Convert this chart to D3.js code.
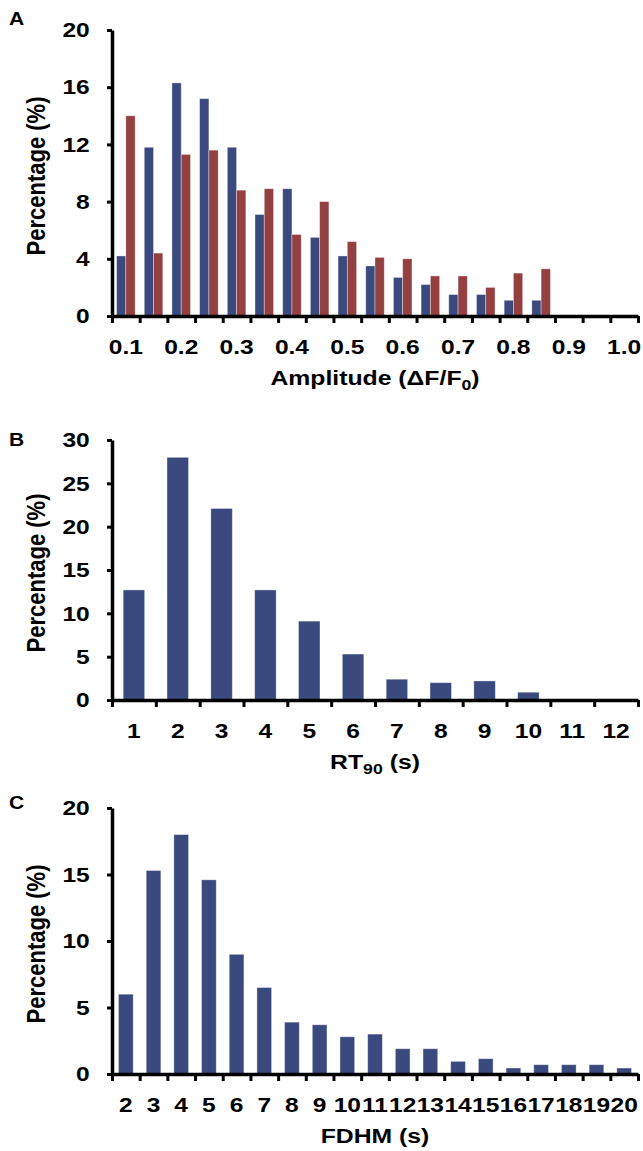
<!DOCTYPE html>
<html>
<head>
<meta charset="utf-8">
<script src="https://cdn.jsdelivr.net/npm/d3@7"></script>
<style>
  body { margin: 0; background: #fff; }
  svg text { font-family: "Liberation Sans", Arial, sans-serif; font-weight: bold; fill: #000; }
</style>
</head>
<body>
<div id="chart"></div>
<script>
// panel A: amplitude histogram, two series
const ampCats = ["0.1","0.15","0.2","0.25","0.3","0.35","0.4","0.45","0.5","0.55",
                 "0.6","0.65","0.7","0.75","0.8","0.85","0.9","0.95","1.0"];
const ampLabels = ["0.1","0.2","0.3","0.4","0.5","0.6","0.7","0.8","0.9","1.0"];
const ampBlue = [4.2, 11.8, 16.3, 15.2, 11.8, 7.1, 8.9, 5.5, 4.2, 3.5, 2.7, 2.2, 1.5, 1.5, 1.1, 1.1, 0, 0, 0];
const ampRed  = [14.0, 4.4, 11.3, 11.6, 8.8, 8.9, 5.7, 8.0, 5.2, 4.1, 4.0, 2.8, 2.8, 2.0, 3.0, 3.3, 0, 0, 0];
const ampTicks = [0, 4, 8, 12, 16, 20];

// panel B: RT90
const rtCats = ["1","2","3","4","5","6","7","8","9","10","11","12"];
const rtVals = [12.7, 28.0, 22.1, 12.7, 9.1, 5.3, 2.4, 2.0, 2.2, 0.9, 0, 0];
const rtTicks = [0, 5, 10, 15, 20, 25, 30];

// panel C: FDHM
const fdCats = ["2","3","4","5","6","7","8","9","10","11","12","13","14","15","16","17","18","19","20"];
const fdVals = [6.0, 15.3, 18.0, 14.6, 9.0, 6.5, 3.9, 3.7, 2.8, 3.0, 1.9, 1.9, 0.95, 1.15, 0.45, 0.7, 0.7, 0.7, 0.45];
const fdTicks = [0, 5, 10, 15, 20];

const W = 643, H = 1151,
      left = 112, right = 638,
      sx = 1.17,           // the figure is stretched sideways
      blue = "#3b4a7e", red = "#943f40";

const svg = d3.select("#chart").append("svg")
  .attr("width", W).attr("height", H);

function subTitle(t, parts) {
  parts.forEach(p => {
    const ts = t.append("tspan").text(p.s);
    if (p.sub) ts.attr("font-size", "15px").attr("dy", "5");
    else if (p.back) ts.attr("dy", "-5");
  });
}

function panel(o) {
  const g = svg.append("g");
  const y = d3.scaleLinear().domain([0, o.ticks[o.ticks.length - 1]]).range([o.y0, o.yTop]);
  const n = o.cats.length;
  const x = d3.scaleBand().domain(o.cats).range([left, right])
    .paddingInner(o.pad).paddingOuter(o.pad / 2);
  const xLab = d3.scaleBand().domain(o.cats).range([left, right]);
  const xi = d3.scaleLinear().domain([0, n]).range([left, right]);

  // bars
  o.series.forEach((s, si) => {
    const inner = d3.scaleBand().domain(d3.range(o.series.length)).range([0, x.bandwidth()]);
    g.append("g").selectAll("rect")
      .data(s.vals.map((v, i) => ({c: o.cats[i], v})).filter(d => d.v > 0))
      .enter().append("rect")
      .attr("x", d => x(d.c) + inner(si))
      .attr("width", inner.bandwidth())
      .attr("y", d => y(d.v))
      .attr("height", d => y(0) - y(d.v))
      .attr("fill", s.color)
      .attr("stroke", "rgba(255,255,255,0.45)")
      .attr("stroke-width", 0.8);
  });

  // y axis
  const ya = g.append("g").attr("transform", `translate(${left},0)`)
    .call(d3.axisLeft(y).tickValues(o.ticks).tickSize(5).tickSizeOuter(0).tickPadding(14));
  ya.select(".domain").attr("stroke", "#000").attr("stroke-width", 3.5);
  ya.selectAll(".tick line").attr("stroke", "#000").attr("stroke-width", 3);
  ya.selectAll(".tick text").attr("font-size", "21px")
    .attr("transform", `scale(${sx},1)`).attr("font-family", null);

  // x axis: ticks at category edges
  const xa = g.append("g").attr("transform", `translate(0,${o.y0})`)
    .call(d3.axisBottom(xi).tickValues(d3.range(0, n + 1)).tickFormat("").tickSize(7).tickSizeOuter(0));
  xa.select(".domain").attr("stroke", "#000").attr("stroke-width", 3.5);
  xa.selectAll(".tick line").attr("stroke", "#000").attr("stroke-width", 3);

  // x labels at category centres
  const xl = g.append("g").attr("transform", `translate(0,${o.y0})`)
    .call(d3.axisBottom(xLab).tickValues(o.labels).tickSize(0));
  xl.select(".domain").remove();
  xl.selectAll(".tick text").attr("font-size", "21px").attr("font-family", null)
    .attr("y", 38).attr("dy", 0)
    .attr("transform", `scale(${sx},1)`);

  // axis titles
  const xt = g.append("text")
    .attr("text-anchor", "middle").attr("font-size", "21px")
    .attr("transform", `translate(${(left + right) / 2},${o.y0 + 69}) scale(1.18,1)`);
  subTitle(xt, o.xTitle);

  g.append("text")
    .attr("text-anchor", "middle").attr("font-size", "22px").attr("dy", "0.36em")
    .attr("transform", `translate(36,${(o.y0 + o.yTop) / 2 + 3}) scale(${sx},1) rotate(-90)`)
    .text("Percentage (%)");

  // panel letter
  g.append("text").attr("font-size", "18px")
    .attr("transform", `translate(9,${o.letterY}) scale(${sx},1)`)
    .text(o.letter);
}

panel({
  letter: "A", letterY: 25, yTop: 30, y0: 316, ticks: ampTicks,
  cats: ampCats, labels: ampLabels, pad: 0.33,
  series: [{vals: ampBlue, color: blue}, {vals: ampRed, color: red}],
  xTitle: [{s: "Amplitude (ΔF/F"}, {s: "0", sub: true}, {s: ")", back: true}]
});

panel({
  letter: "B", letterY: 446, yTop: 440, y0: 700, ticks: rtTicks,
  cats: rtCats, labels: rtCats, pad: 0.51,
  series: [{vals: rtVals, color: blue}],
  xTitle: [{s: "RT"}, {s: "90", sub: true}, {s: " (s)", back: true}]
});

panel({
  letter: "C", letterY: 809, yTop: 808, y0: 1074, ticks: fdTicks,
  cats: fdCats, labels: fdCats, pad: 0.47,
  series: [{vals: fdVals, color: blue}],
  xTitle: [{s: "FDHM (s)"}]
});
</script>
</body>
</html>
